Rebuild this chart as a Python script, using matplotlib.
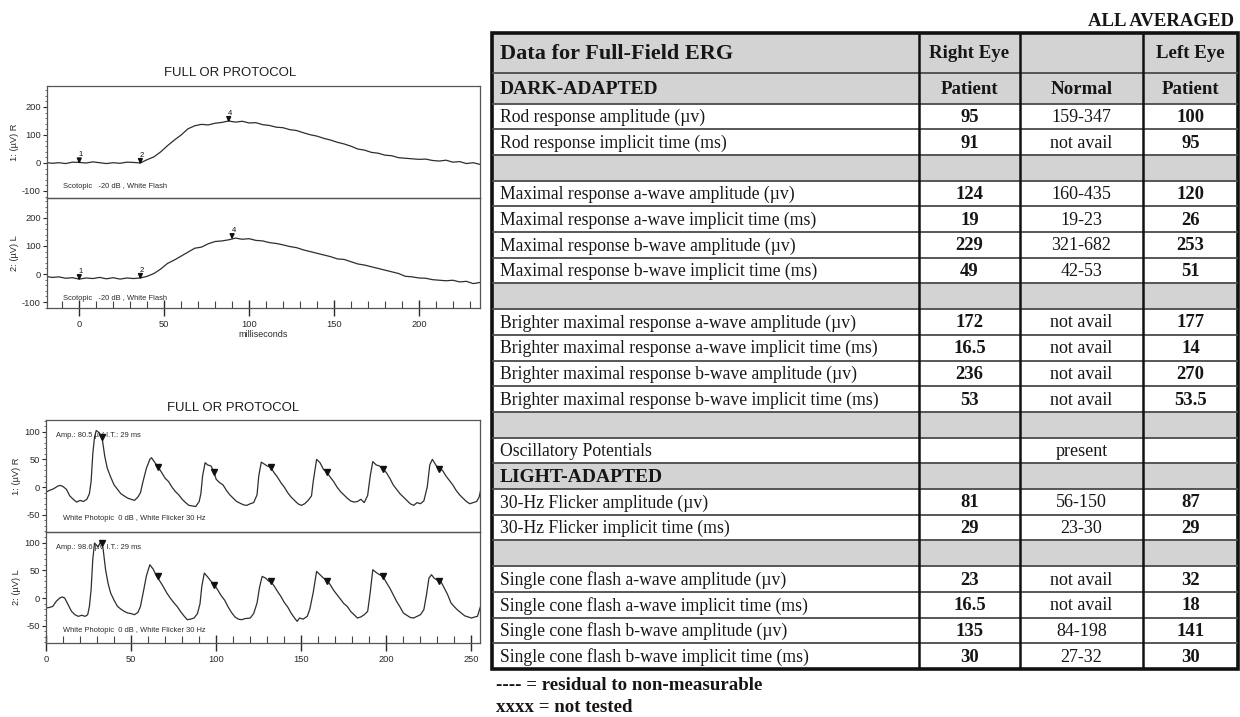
import matplotlib
matplotlib.use("Agg")
import matplotlib.pyplot as plt
from matplotlib.patches import Rectangle
from matplotlib.ticker import MultipleLocator, FixedLocator
from matplotlib import font_manager as fm

plt.rcParams["axes.unicode_minus"] = False

# ---------------- data ----------------
scot_t = [-20, -16, -12, -8, -4, 0, 4, 8, 12, 16, 20, 24, 28, 32, 36, 40, 44, 48, 52, 56,
          60, 64, 68, 72, 76, 80, 84, 88, 92, 96, 100, 104, 108, 112, 116, 120, 124, 128,
          132, 136, 140, 144, 148, 152, 156, 160, 164, 168, 172, 176, 180, 184, 188, 192,
          196, 200, 204, 208, 212, 216, 220, 224, 228, 232, 236]
scot_R = [2, -1, 1, -2, 3, 2, 0, 4, 1, -2, 1, -1, 3, 2, 0, 12, 22, 40, 62, 82,
          100, 122, 133, 138, 136, 142, 145, 150, 146, 149, 143, 144, 137, 134, 128, 126, 119, 116,
          108, 101, 96, 88, 82, 74, 68, 60, 50, 46, 38, 35, 28, 26, 19, 17,
          15, 13, 14, 9, 7, 10, 3, 5, -2, 1, -5]
scot_L = [-8, -12, -10, -15, -13, -18, -14, -16, -12, -17, -13, -18, -14, -16, -14, -8, 2, 18, 38, 50,
          64, 78, 92, 96, 108, 116, 118, 122, 128, 124, 126, 120, 118, 112, 109, 104, 98, 94,
          86, 80, 74, 68, 62, 54, 52, 44, 36, 32, 26, 20, 14, 8, 2, -8,
          -10, -14, -15, -20, -22, -24, -22, -28, -26, -34, -30]
scot_marks_R = [(0, 2, "1"), (36, 0, "2"), (88, 150, "4")]
scot_marks_L = [(0, -18, "1"), (36, -14, "2"), (90, 128, "4")]

flick_R = [(0, -9), (2, -6), (4.5, -3), (7, 2), (8.5, 3), (10, 1), (12, -4), (14, -16), (16, -22),
           (18, -27), (20, -24), (22, -26), (24, -22), (25.5, -12), (26.5, 10), (27.5, 60), (28.5, 90),
           (29.5, 102), (30.5, 100), (31.5, 96), (33, 88), (34.5, 56), (36, 34), (38, 18), (40, 4),
           (42, -4), (44, -12), (46, -16), (48, -20), (50, -22), (52, -24), (54, -18), (55.5, -10),
           (57, 10), (59, 34), (61, 50), (62, 53), (64, 44), (66, 36), (68, 26), (70, 16), (72, 10),
           (74, 0), (76, -8), (78, -14), (80, -22), (82, -28), (84, -33), (86, -34), (88, -35),
           (90, -26), (91, -12), (92, 20), (93.5, 44), (95, 40), (97, 38), (99, 24), (100, 14),
           (102, 8), (104, 4), (106, -6), (108, -14), (110, -20), (112, -26), (114, -29), (116, -32),
           (118, -33), (120, -30), (122, -28), (124, -14), (125, 20), (126.5, 45), (128, 42), (130, 38),
           (132, 36), (134, 26), (136, 18), (138, 8), (140, 0), (142, -10), (144, -18), (146, -24),
           (148, -30), (150, -33), (152, -30), (154, -24), (156, -16), (157, 10), (159, 50), (161, 44),
           (163, 32), (165, 27), (167, 18), (169, 10), (171, 0), (173, -8), (175, -14), (177, -20),
           (179, -25), (181, -27), (183, -26), (185, -22), (187, -28), (189, -15), (190.5, 20), (192, 46),
           (194, 40), (196, 38), (198, 33), (200, 26), (202, 16), (204, 4), (206, -4), (208, -12),
           (210, -18), (212, -24), (214, -30), (216, -33), (218, -28), (220, -30), (222, -25), (224, 0),
           (225.5, 40), (227, 50), (229, 40), (231, 33), (233, 30), (235, 20), (237, 12), (239, 4),
           (241, -6), (243, -14), (245, -20), (247, -26), (249, -30), (251, -28), (253, -26),
           (254.5, -18), (255.5, -4)]
flick_L = [(0, -18), (2, -17), (4, -15), (6, -6), (8, 0), (9.5, 2), (11, 0), (13, -12), (15, -24),
           (17, -30), (19, -33), (21, -31), (23, -33), (24.5, -30), (25.5, -15), (26.5, 15), (27.5, 70),
           (28.5, 99), (29.5, 96), (30.5, 92), (31.5, 98), (32.5, 102), (33.5, 90), (35, 51), (36.5, 26),
           (38, 9), (40, -4), (42, -15), (44, -20), (46, -24), (48, -27), (50, -28), (52, -30), (54, -26),
           (55.5, -15), (57, 8), (59, 40), (61, 60), (63, 52), (65, 39), (67, 30), (69, 20), (71, 9),
           (73, 0), (75, -8), (77, -15), (79, -24), (81, -32), (83, -39), (85, -38), (87, -36), (89, -28),
           (90.5, -10), (91.5, 20), (93, 45), (95, 38), (97, 30), (99, 24), (101, 14), (103, 4),
           (105, -4), (107, -16), (109, -26), (111, -34), (113, -38), (115, -39), (117, -37), (120, -36),
           (122, -28), (124, -9), (125.5, 20), (127, 39), (129, 36), (131, 30), (132, 30), (134, 22),
           (136, 12), (138, 3), (140, -8), (142, -16), (144, -27), (146, -36), (147.6, -42), (149, -36),
           (151, -38), (153.5, -33), (155, -20), (157, 10), (159, 48), (161, 42), (163, 36), (165, 33),
           (167, 24), (169, 14), (171, 6), (173, -2), (175, -10), (177, -15), (179, -24), (181, -30),
           (183, -36), (185, -34), (187, -30), (189, -24), (190.5, 10), (192, 51), (194, 46), (196, 42),
           (198, 39), (200, 28), (202, 18), (204.5, 3), (206, -6), (208, -16), (210, -27), (212, -31),
           (214, -35), (216, -36), (218, -33), (220, -30), (222, -21), (223.5, 5), (225, 36), (226.5, 42),
           (228, 36), (230, 32), (232, 30), (234, 18), (236, 6), (238, -9), (240, -16), (242, -22),
           (244, -27), (246, -32), (248, -34), (250, -36), (252, -34), (253.5, -33), (255, -18), (256, -9)]
flick_mark_t = [33, 66, 99, 132, 165, 198, 231]
flick_mark_R = [90, 36, 27, 36, 27, 33, 33]
flick_mark_L = [100, 39, 24, 30, 30, 39, 30]

table_title = "Data for Full-Field ERG"
col_heads_1 = ["Right Eye", "", "Left Eye"]
col_heads_2 = ["Patient", "Normal", "Patient"]
section_rows = ["DARK-ADAPTED", "LIGHT-ADAPTED"]
row_labels = ["Rod response amplitude (µv)", "Rod response implicit time (ms)", "",
              "Maximal response a-wave amplitude (µv)", "Maximal response a-wave implicit time (ms)",
              "Maximal response b-wave amplitude (µv)", "Maximal response b-wave implicit time (ms)", "",
              "Brighter maximal response a-wave amplitude (µv)",
              "Brighter maximal response a-wave implicit time (ms)",
              "Brighter maximal response b-wave amplitude (µv)",
              "Brighter maximal response b-wave implicit time (ms)", "",
              "Oscillatory Potentials", "LIGHT-ADAPTED",
              "30-Hz Flicker amplitude (µv)", "30-Hz Flicker implicit time (ms)", "",
              "Single cone flash a-wave amplitude (µv)", "Single cone flash a-wave implicit time (ms)",
              "Single cone flash b-wave amplitude (µv)", "Single cone flash b-wave implicit time (ms)"]
right_eye = ["95", "91", "", "124", "19", "229", "49", "", "172", "16.5", "236", "53", "",
             "", "", "81", "29", "", "23", "16.5", "135", "30"]
normal = ["159-347", "not avail", "", "160-435", "19-23", "321-682", "42-53", "",
          "not avail", "not avail", "not avail", "not avail", "", "present", "",
          "56-150", "23-30", "", "not avail", "not avail", "84-198", "27-32"]
left_eye = ["100", "95", "", "120", "26", "253", "51", "", "177", "14", "270", "53.5", "",
            "", "", "87", "29", "", "32", "18", "141", "30"]
notes = ["---- = residual to non-measurable", "xxxx = not tested"]

# ---------------- fonts ----------------
avail = {f.name for f in fm.fontManager.ttflist}
if "Liberation Sans Narrow" in avail:
    SANS, k = "Liberation Sans Narrow", 1.0
else:
    SANS, k = "Liberation Sans", 0.86
SERIF = "Liberation Serif"

W, H = 1240, 717
fig = plt.figure(figsize=(W / 100, H / 100), dpi=100)
fig.patch.set_facecolor("white")

# ---------------- table ----------------
tab = fig.add_axes([0, 0, 1, 1])
tab.set_xlim(0, W)
tab.set_ylim(H, 0)
tab.axis("off")

X0, X1, X2, X3, X4 = 492, 919, 1020, 1143, 1238
Y0, Y1, Y2, YB = 33, 73, 103.5, 669
rh = (YB - Y2) / len(row_labels)
GRAY = "#d3d3d3"
INK = "#161616"

tab.add_patch(Rectangle((X0, Y0), X4 - X0, Y2 - Y0, facecolor=GRAY, edgecolor="none"))
for i, lab in enumerate(row_labels):
    y = Y2 + i * rh
    if lab == "" or lab in section_rows:
        tab.add_patch(Rectangle((X0, y), X4 - X0, rh, facecolor=GRAY, edgecolor="none"))

for y in [Y1, Y2] + [Y2 + i * rh for i in range(1, len(row_labels))]:
    tab.plot([X0, X4], [y, y], color="#4a4a4a", lw=1.3, solid_capstyle="butt")
for x in [X1, X2, X3]:
    tab.plot([x, x], [Y0, YB], color="#111111", lw=1.8, solid_capstyle="butt")
tab.add_patch(Rectangle((X0, Y0), X4 - X0, YB - Y0, facecolor="none", edgecolor="#111111", lw=2.6))

cx = [(X1 + X2) / 2, (X2 + X3) / 2, (X3 + X4) / 2]
tab.text(X4 - 4, 22, "ALL AVERAGED", ha="right", va="center", family=SERIF, weight="bold",
         fontsize=13.5, color=INK)
tab.text(X0 + 8, (Y0 + Y1) / 2 + 1, table_title, ha="left", va="center", family=SERIF,
         weight="bold", fontsize=16, color=INK)
tab.text(X0 + 8, (Y1 + Y2) / 2 + 1, section_rows[0], ha="left", va="center", family=SERIF,
         weight="bold", fontsize=14, color=INK)
for j in range(3):
    if col_heads_1[j]:
        tab.text(cx[j], (Y0 + Y1) / 2 + 1, col_heads_1[j], ha="center", va="center", family=SERIF,
                 weight="bold", fontsize=13.6, color=INK)
    tab.text(cx[j], (Y1 + Y2) / 2 + 1, col_heads_2[j], ha="center", va="center", family=SERIF,
             weight="bold", fontsize=13.6, color=INK)

for i, lab in enumerate(row_labels):
    yc = Y2 + (i + 0.5) * rh + 1
    if lab in section_rows:
        tab.text(X0 + 8, yc, lab, ha="left", va="center", family=SERIF, weight="bold",
                 fontsize=14, color=INK)
    elif lab:
        tab.text(X0 + 8, yc, lab, ha="left", va="center", family=SERIF, fontsize=12.7, color=INK)
    for j, (val, bold) in enumerate([(right_eye[i], True), (normal[i], False), (left_eye[i], True)]):
        if val:
            tab.text(cx[j], yc, val, ha="center", va="center", family=SERIF,
                     weight="bold" if bold else "normal", fontsize=13.4 if bold else 13, color=INK)

tab.text(X0 + 4, 685, notes[0], ha="left", va="center", family=SERIF, weight="bold",
         fontsize=13.6, color=INK)
tab.text(X0 + 4, 708, notes[1], ha="left", va="center", family=SERIF, weight="bold",
         fontsize=13.6, color=INK)

# ---------------- trace panels ----------------
LINE = "#2e2e2e"
TXT = "#2a2a2a"


def frac(l, t, r, b):
    return [l / W, 1 - b / H, (r - l) / W, (b - t) / H]


def style_panel(ax, xlim, ylim, ymaj, ymin, ylabel, bottom):
    ax.set_xlim(*xlim)
    ax.set_ylim(*ylim)
    for s in ax.spines.values():
        s.set_color("#555555")
        s.set_linewidth(0.9)
    ax.yaxis.set_major_locator(FixedLocator(ymaj))
    ax.yaxis.set_minor_locator(MultipleLocator(ymin))
    ax.tick_params(axis="y", which="major", direction="out", length=3, width=0.8, pad=1.5,
                   labelsize=7.8 * k, colors=TXT)
    ax.tick_params(axis="y", which="minor", direction="out", length=1.8, width=0.6, colors="#555555")
    for lab in ax.get_yticklabels():
        lab.set_family(SANS)
    ax.set_ylabel(ylabel, family=SANS, fontsize=7.8 * k, color=TXT, labelpad=2)
    if not bottom:
        ax.tick_params(axis="x", which="both", bottom=False, labelbottom=False)
    ax.set_facecolor("none")


def style_xaxis(ax, xmaj, xmin):
    ax.xaxis.set_major_locator(MultipleLocator(xmaj))
    ax.xaxis.set_minor_locator(MultipleLocator(xmin))
    ax.tick_params(axis="x", which="major", direction="inout", length=11, width=1.0, pad=3,
                   labelsize=7.8 * k, colors=TXT)
    ax.tick_params(axis="x", which="minor", direction="in", length=5, width=0.8, colors="#444444")
    for lab in ax.get_xticklabels():
        lab.set_family(SANS)


# Scotopic
fig.text(230 / W, 1 - 73 / H, "FULL OR PROTOCOL", ha="center", va="center", family=SANS,
         fontsize=11 * k, color="#1e1e1e")
sx = (-19, 236)
ax1 = fig.add_axes(frac(47, 86, 480, 198))
ax1.plot(scot_t, scot_R, color=LINE, lw=0.9)
style_panel(ax1, sx, (-125, 275), [-100, 0, 100, 200], 20, "1: (µV) R", False)
ax2 = fig.add_axes(frac(47, 198, 480, 308))
ax2.plot(scot_t, scot_L, color=LINE, lw=0.9)
style_panel(ax2, sx, (-121, 271), [-100, 0, 100, 200], 20, "2: (µV) L", True)
style_xaxis(ax2, 50, 10)
ax2.set_xlabel("milliseconds", family=SANS, fontsize=7.5 * k, labelpad=1, color=TXT)
for ax, marks in [(ax1, scot_marks_R), (ax2, scot_marks_L)]:
    for (t, v, n) in marks:
        ax.annotate("", xy=(t, v - 14), xytext=(t, v + 16),
                    arrowprops=dict(arrowstyle="-|>", lw=1.3, color="#111111", mutation_scale=6))
        ax.text(t + 1, v + 15, n, fontsize=5.5, family=SANS, ha="center", va="bottom", color="#111111")
ax1.text(0.037, 0.1, "Scotopic   -20 dB , White Flash", transform=ax1.transAxes, family=SANS,
         fontsize=6.3 * k, va="center", color=TXT)
ax2.text(0.037, 0.09, "Scotopic   -20 dB , White Flash", transform=ax2.transAxes, family=SANS,
         fontsize=6.3 * k, va="center", color=TXT)

# Flicker
fig.text(233 / W, 1 - 408 / H, "FULL OR PROTOCOL", ha="center", va="center", family=SANS,
         fontsize=11 * k, color="#1e1e1e")
fx = (0, 255)
ax3 = fig.add_axes(frac(46, 420, 480, 532))
ax3.plot([p[0] for p in flick_R], [p[1] for p in flick_R], color=LINE, lw=0.9)
style_panel(ax3, fx, (-81, 121), [-50, 0, 50, 100], 10, "1: (µV) R", False)
ax4 = fig.add_axes(frac(46, 532, 480, 643))
ax4.plot([p[0] for p in flick_L], [p[1] for p in flick_L], color=LINE, lw=0.9)
style_panel(ax4, fx, (-81, 119), [-50, 0, 50, 100], 10, "2: (µV) L", True)
style_xaxis(ax4, 50, 10)
ax3.plot(flick_mark_t, flick_mark_R, linestyle="none", marker="v", ms=4.5, color="#111111")
ax4.plot(flick_mark_t, flick_mark_L, linestyle="none", marker="v", ms=4.5, color="#111111")
ax3.text(0.022, 0.86, "Amp.: 80.5 µV I.T.: 29 ms", transform=ax3.transAxes, family=SANS,
         fontsize=6.3 * k, va="center", color=TXT)
ax4.text(0.022, 0.86, "Amp.: 98.6 µV I.T.: 29 ms", transform=ax4.transAxes, family=SANS,
         fontsize=6.3 * k, va="center", color=TXT)
ax3.text(0.039, 0.12, "White Photopic  0 dB , White Flicker 30 Hz", transform=ax3.transAxes,
         family=SANS, fontsize=6.3 * k, va="center", color=TXT)
ax4.text(0.039, 0.11, "White Photopic  0 dB , White Flicker 30 Hz", transform=ax4.transAxes,
         family=SANS, fontsize=6.3 * k, va="center", color=TXT)

fig.savefig("out.png", dpi=100, facecolor="white")
